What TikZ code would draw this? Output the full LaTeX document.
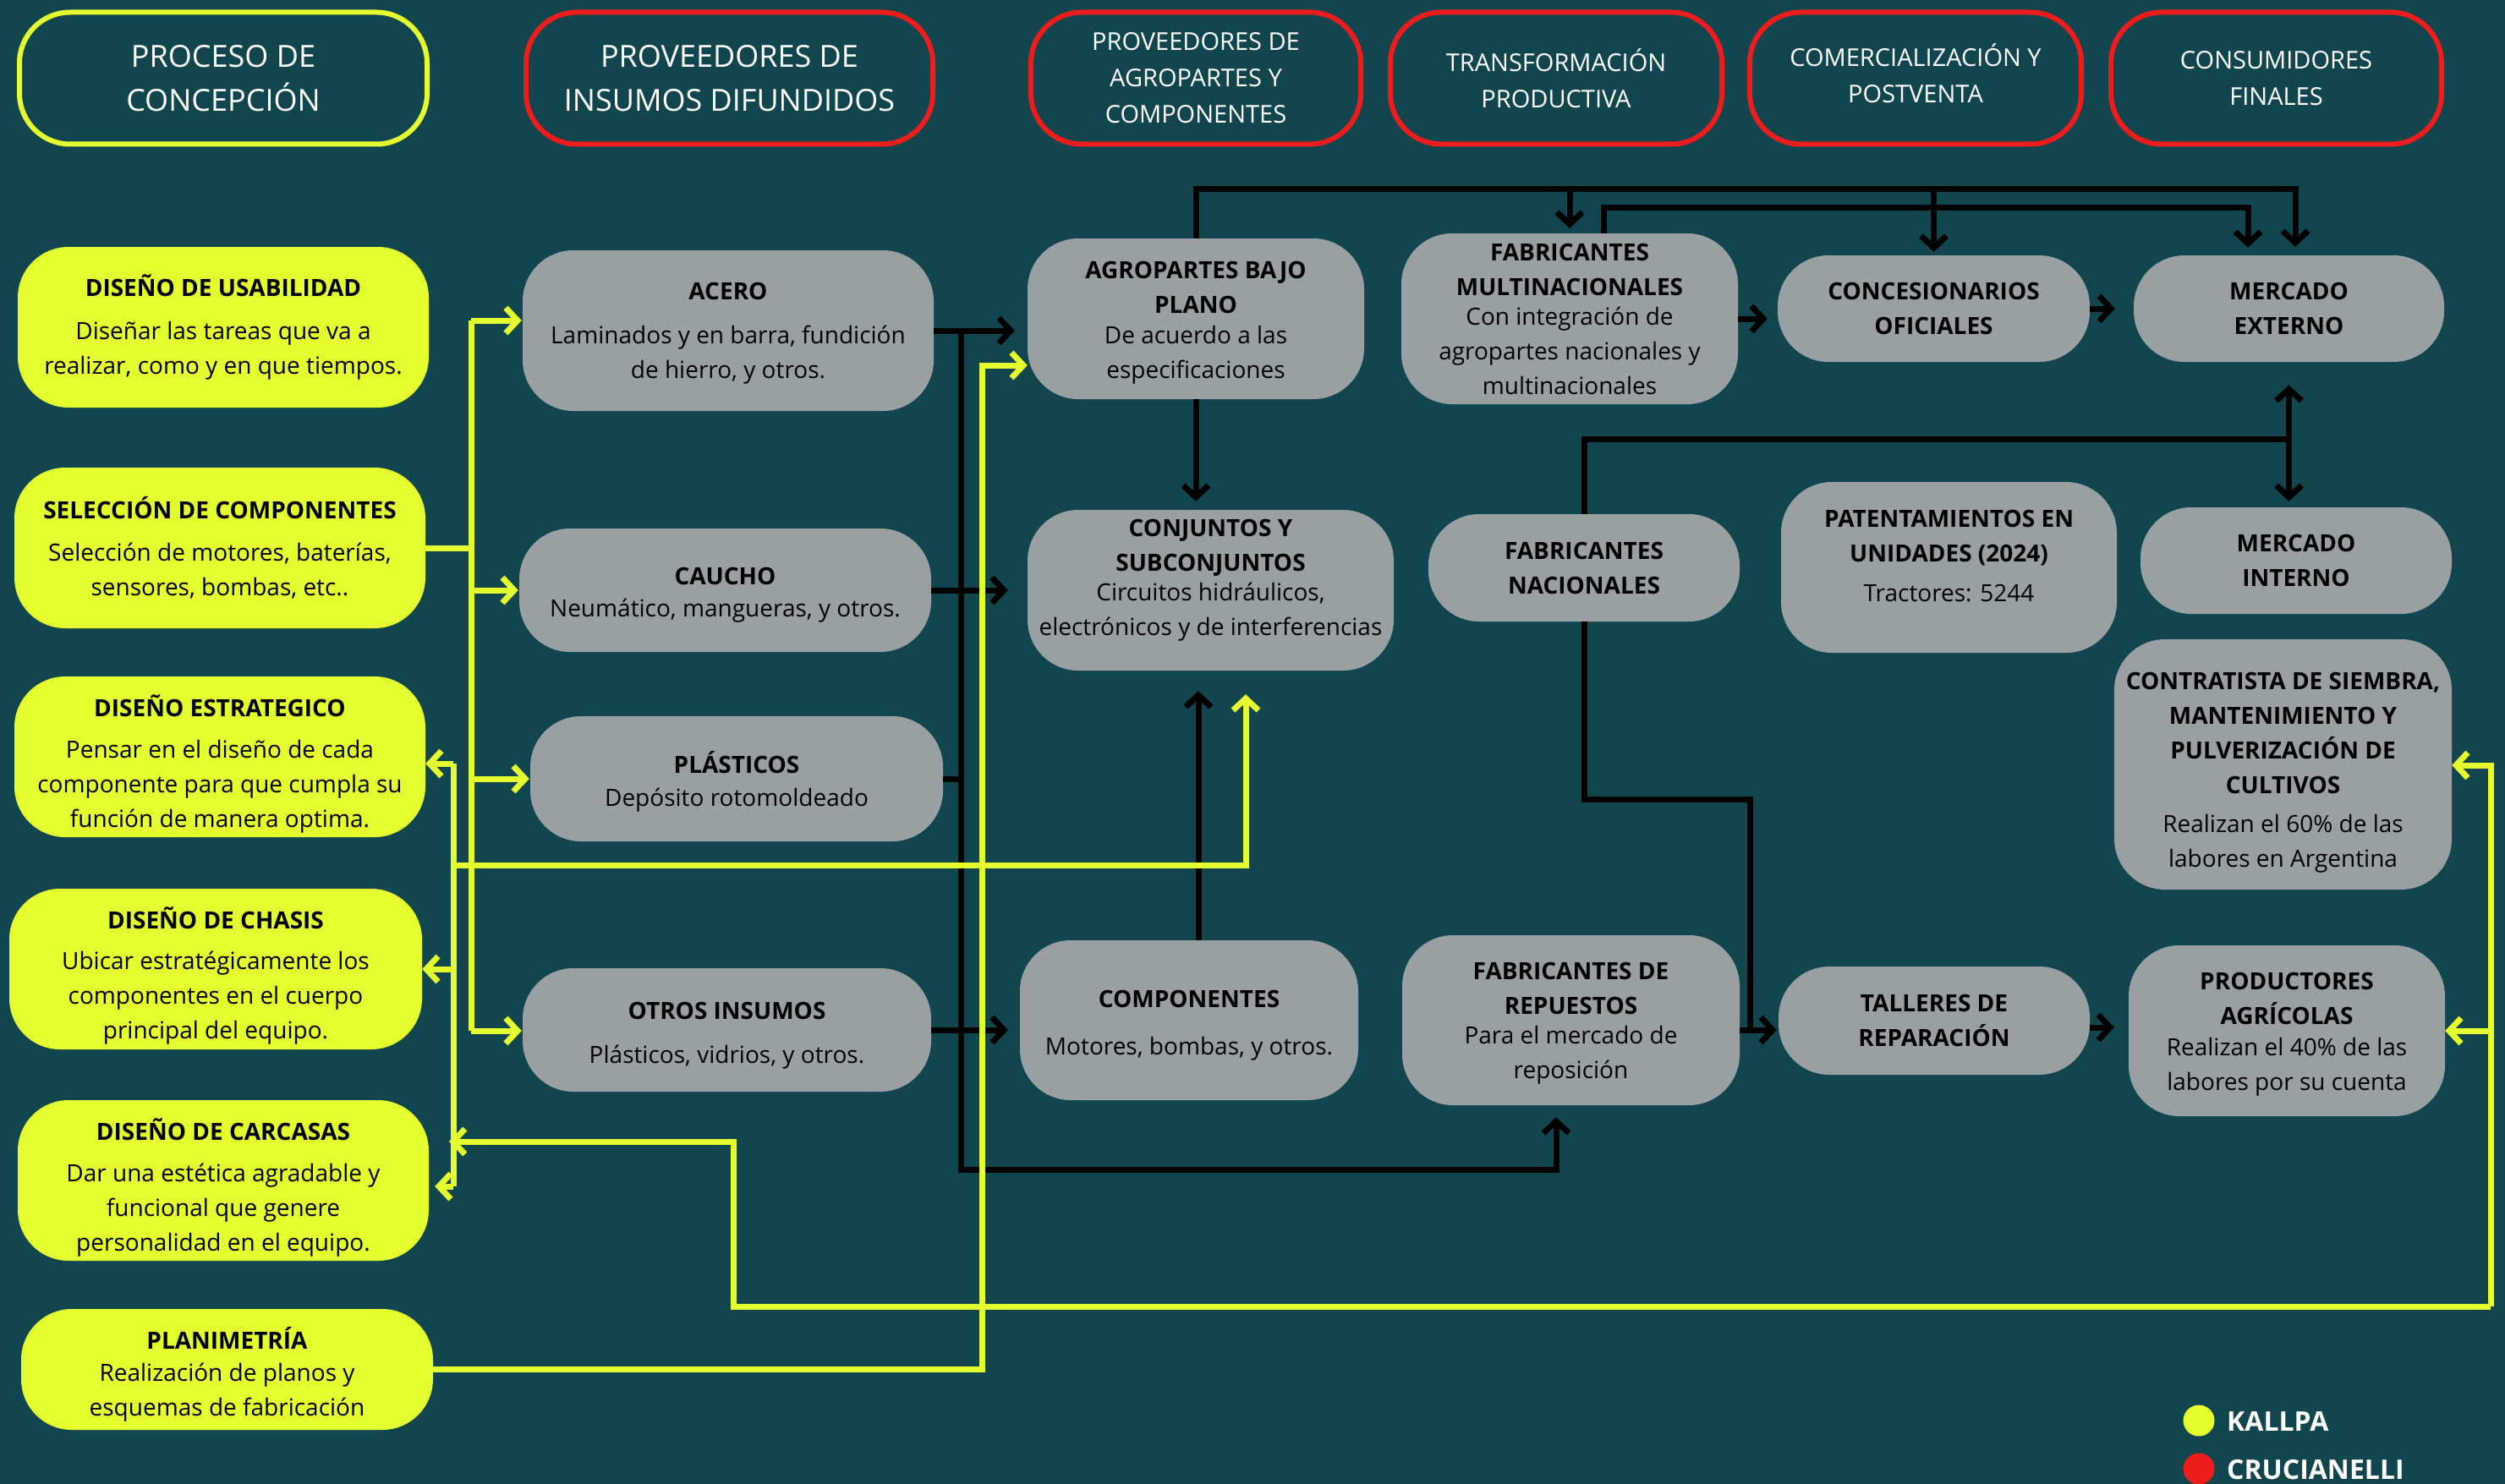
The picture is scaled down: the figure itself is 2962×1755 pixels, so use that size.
\documentclass[tikz,border=0pt]{standalone}
\usepackage{fontspec}
\setmainfont{Open Sans}
\usetikzlibrary{arrows.meta,calc}
\definecolor{bgc}{HTML}{12464F}
\definecolor{ylw}{HTML}{E4FD2F}
\definecolor{rdc}{HTML}{EE1C1C}
\definecolor{gry}{HTML}{9A9FA1}
\begin{document}
\begin{tikzpicture}[x=1pt,y=-1pt,
 hdr/.style={draw, line width=6pt, rounded corners=60pt, text=white, align=center, inner sep=0pt},
 hbig/.style={hdr, font=\fontsize{36}{52}\selectfont},
 hsm/.style={hdr, font=\fontsize{29}{43}\selectfont},
 txt/.style={align=center, inner sep=0pt, text=black, font=\fontsize{28}{41}\selectfont},
 ybox/.style={fill=ylw, rounded corners=60pt, inner sep=0pt},
 gbox/.style={fill=gry, rounded corners=60pt, inner sep=0pt},
 blk/.style={draw=black, line width=7pt},
 yl/.style={draw=ylw, line width=7pt},
 arr/.style={-{Straight Barb[length=14pt,width=30pt]}},
 darr/.style={{Straight Barb[length=14pt,width=30pt]}-{Straight Barb[length=14pt,width=30pt]}},
 legt/.style={anchor=west, text=white, font=\bfseries\fontsize{32}{38}\selectfont, inner sep=0pt},
 dot/.style={circle, minimum size=37pt, inner sep=0pt}
]
\useasboundingbox (0,0) rectangle (2962,1755);
\fill[bgc] (0,0) rectangle (2962,1755);

% headers
\node[hbig, draw=ylw, minimum width=482pt, minimum height=156pt] (h1) at (264,92.5) {PROCESO DE\\CONCEPCIÓN};
\node[hbig, draw=rdc, minimum width=481pt, minimum height=156pt] (h2) at (862.5,92.5) {PROVEEDORES DE\\INSUMOS DIFUNDIDOS};
\node[hsm, draw=rdc, minimum width=390pt, minimum height=156pt] (h3) at (1414,92.5) {PROVEEDORES DE\\AGROPARTES Y\\COMPONENTES};
\node[hsm, draw=rdc, minimum width=392pt, minimum height=156pt] (h4) at (1840,92.5) {TRANSFORMACIÓN\\PRODUCTIVA};
\node[hsm, draw=rdc, minimum width=392pt, minimum height=156pt] (h5) at (2265,92.5) {COMERCIALIZACIÓN Y\\POSTVENTA\\[-31pt]\mbox{}};
\node[hsm, draw=rdc, minimum width=391pt, minimum height=156pt] (h6) at (2691.5,92.5) {CONSUMIDORES\\FINALES};

% left yellow boxes
\node[ybox, minimum width=486pt, minimum height=190pt, label={[txt]center:{\textbf{DISEÑO DE USABILIDAD}\\[10pt] Diseñar las tareas que va a\\ realizar, como y en que tiempos.}}] (usab) at (264,387) {};
\node[ybox, minimum width=486pt, minimum height=190pt, label={[txt]center:{\textbf{SELECCIÓN DE COMPONENTES}\\[9pt] Selección de motores, baterías,\\ sensores, bombas, etc..}}] (selcomp) at (260,648) {};
\node[ybox, minimum width=486pt, minimum height=190pt, label={[txt,yshift=-8pt]center:{\textbf{DISEÑO ESTRATEGICO}\\[8pt] Pensar en el diseño de cada\\ componente para que cumpla su\\ función de manera optima.}}] (estrat) at (260,895) {};
\node[ybox, minimum width=488pt, minimum height=190pt, label={[txt,yshift=-8pt]center:{\textbf{DISEÑO DE CHASIS}\\[7pt] Ubicar estratégicamente los\\ componentes en el cuerpo\\ principal del equipo.}}] (chasis) at (255,1146) {};
\node[ybox, minimum width=486pt, minimum height=190pt, label={[txt,yshift=-8pt]center:{\textbf{DISEÑO DE CARCASAS}\\[8pt] Dar una estética agradable y\\ funcional que genere\\ personalidad en el equipo.}}] (carcasas) at (264,1396) {};
\node[ybox, minimum width=487pt, minimum height=143pt, label={[txt,yshift=-6pt]center:{\textbf{PLANIMETRÍA}\\[-3pt] Realización de planos y\\ esquemas de fabricación}}] (planim) at (268.5,1619.5) {};

% gray boxes
\node[gbox, minimum width=486pt, minimum height=190pt, label={[txt,yshift=-3pt]center:{\textbf{ACERO}\\[11pt] Laminados y en barra, fundición\\ de hierro, y otros.}}] (acero) at (861,391) {};
\node[gbox, minimum width=487pt, minimum height=146pt, label={[txt,yshift=-6pt]center:{\textbf{CAUCHO}\\[-3pt] Neumático, mangueras, y otros.}}] (caucho) at (857.5,698) {};
\node[gbox, minimum width=488pt, minimum height=148pt, label={[txt,yshift=-3pt]center:{\textbf{PLÁSTICOS}\\[-2pt] Depósito rotomoldeado}}] (plast) at (871,921) {};
\node[gbox, minimum width=483pt, minimum height=146pt, label={[txt,yshift=-7pt]center:{\textbf{OTROS INSUMOS}\\[11pt] Plásticos, vidrios, y otros.}}] (otros) at (859.5,1218) {};
\node[gbox, minimum width=398pt, minimum height=190pt, label={[txt,yshift=-5pt]center:{\textbf{AGROPARTES BAJO}\\ \textbf{PLANO}\\[-5pt] De acuerdo a las\\ especificaciones}}] (agro) at (1414,377) {};
\node[gbox, minimum width=398pt, minimum height=202pt, label={[txt]center:{\textbf{FABRICANTES}\\ \textbf{MULTINACIONALES}\\[-6pt] Con integración de\\ agropartes nacionales y\\ multinacionales}}] (multinac) at (1856,377) {};
\node[gbox, minimum width=433pt, minimum height=190pt, label={[txt,yshift=12pt]center:{\textbf{CONJUNTOS Y}\\ \textbf{SUBCONJUNTOS}\\[-6pt] Circuitos hidráulicos,\\ electrónicos y de interferencias}}] (conj) at (1431.5,698) {};
\node[gbox, minimum width=368pt, minimum height=127pt, label={[txt]center:{\textbf{FABRICANTES}\\ \textbf{NACIONALES}}}] (fnac) at (1873,671.5) {};
\node[gbox, minimum width=400pt, minimum height=189pt, label={[txt,yshift=-6pt]center:{\textbf{COMPONENTES}\\[15pt] Motores, bombas, y otros.}}] (comp) at (1406,1206.5) {};
\node[gbox, minimum width=399pt, minimum height=201pt, label={[txt,yshift=-4pt]center:{\textbf{FABRICANTES DE}\\ \textbf{REPUESTOS}\\[-6pt] Para el mercado de\\ reposición}}] (repuestos) at (1857.5,1206.5) {};
\node[gbox, minimum width=369pt, minimum height=126pt, label={[txt]center:{\textbf{CONCESIONARIOS}\\ \textbf{OFICIALES}}}] (conc) at (2286.5,365) {};
\node[gbox, minimum width=367pt, minimum height=126pt, label={[txt]center:{\textbf{MERCADO}\\ \textbf{EXTERNO}}}] (mext) at (2706.5,365) {};
\node[gbox, minimum width=397pt, minimum height=202pt, label={[txt,yshift=13pt]center:{\textbf{PATENTAMIENTOS EN}\\ \textbf{UNIDADES (2024)}\\[6pt] Tractores: 5244}}] (patent) at (2304.5,671) {};
\node[gbox, minimum width=368pt, minimum height=126pt, label={[txt]center:{\textbf{MERCADO}\\ \textbf{INTERNO}}}] (mint) at (2715,663) {};
\node[gbox, minimum width=399pt, minimum height=296pt, label={[txt,yshift=-10pt]center:{\textbf{CONTRATISTA DE SIEMBRA,}\\ \textbf{MANTENIMIENTO Y}\\ \textbf{PULVERIZACIÓN DE}\\ \textbf{CULTIVOS}\\[5pt] Realizan el 60\% de las\\ labores en Argentina}}] (contr) at (2699.5,904) {};
\node[gbox, minimum width=368pt, minimum height=128pt, label={[txt]center:{\textbf{TALLERES DE}\\ \textbf{REPARACIÓN}}}] (talleres) at (2287,1207) {};
\node[gbox, minimum width=374pt, minimum height=202pt, label={[txt,yshift=-4pt]center:{\textbf{PRODUCTORES}\\ \textbf{AGRÍCOLAS}\\[-4pt] Realizan el 40\% de las\\ labores por su cuenta}}] (prod) at (2704,1219) {};

% legend
\node[dot, fill=ylw] (lk) at (2600,1680) {};
\node[legt] (lkt) at (2633,1681) {KALLPA};
\node[dot, fill=rdc] (lc) at (2600,1737) {};
\node[legt] (lct) at (2633,1738) {CRUCIANELLI};

% black connectors
\coordinate (tA) at (1136,391);
\coordinate (tB) at (1136,1383);
\coordinate (tC) at (1840,1383);
\coordinate (cx) at (1417,0);
\draw[blk,arr,shorten >=15pt] (acero.east) -- (acero.east -| agro.west);
\draw[blk,arr,shorten >=23pt] (caucho.east) -- (caucho.east -| conj.west);
\draw[blk] (plast.east) -- (plast.east -| tA);
\draw[blk,arr,shorten >=14pt] (otros.east) -- (otros.east -| comp.west);
\draw[blk,arr,shorten >=14pt] (tA) -- (tB) -- (tC) -- (tC |- repuestos.south);
\draw[blk,arr,shorten >=10pt] (agro.south) -- (agro.south |- conj.north);
\draw[blk,arr,shorten >=24pt] (comp.north -| cx) -- (cx |- conj.south);
\coordinate (T1) at (2714,223);
\coordinate (T2) at (2658,245);
\draw[blk,arr,shorten >=10pt] (agro.north) |- (T1) -- (T1 |- mext.north);
\draw[blk,arr,shorten >=6pt] (multinac.north |- T1) -- (multinac.north);
\draw[blk,arr,shorten >=4pt] (conc.north |- T1) -- (conc.north);
\draw[blk,arr,shorten >=9pt] ([xshift=40pt]multinac.north) |- (T2) -- (T2 |- mext.north);
\draw[blk,arr,shorten >=12pt] (multinac.east) -- (multinac.east -| conc.west);
\draw[blk,arr,shorten >=22pt] (conc.east) -- (conc.east -| mext.west);
\coordinate (J) at (2706,519);
\draw[blk] (fnac.north) |- (J);
\draw[blk,darr,shorten <=27pt,shorten >=7pt] (mext.south) -- (mext.south |- mint.north);
\coordinate (K1) at (2069,945);
\coordinate (K2) at (2069,1218);
\draw[blk] (fnac.south) |- (K1) -- (K2);
\draw[blk,arr,shorten >=2pt] (repuestos.east |- K2) -- (K2 -| talleres.west);
\draw[blk,arr,shorten >=17pt] ([yshift=-8pt]talleres.east) -- ([yshift=-8pt]talleres.east -| prod.west);

% yellow connectors
\coordinate (Ya) at (557,379);
\coordinate (Yb) at (557,1219);
\draw[yl] (selcomp.east) -- (selcomp.east -| Ya);
\draw[yl] (Ya) -- (Yb);
\draw[yl,arr,shorten >=1pt] (Ya) -- (Ya -| acero.west);
\draw[yl,arr,shorten >=1pt] (caucho.west -| Ya) -- (caucho.west);
\draw[yl,arr,shorten >=1pt] (plast.west -| Ya) -- (plast.west);
\draw[yl,arr,shorten >=1pt] (Yb) -- (Yb -| otros.west);
\coordinate (Yc) at (536,903);
\coordinate (Yd) at (536,1403);
\draw[yl] (Yc) -- (Yd);
\draw[yl,arr] (Yc) -- (Yc -| estrat.east);
\draw[yl,arr] (chasis.east -| Yc) -- (chasis.east);
\draw[yl,arr,shorten >=7pt] (Yd) -- (Yd -| carcasas.east);
\coordinate (Ye) at (1473,1023);
\draw[yl,arr,shorten >=28pt] (Yc |- Ye) -- (Ye) -- (Ye |- conj.south);
\coordinate (R1) at (2945,905);
\coordinate (R2) at (2945,1545);
\coordinate (L2) at (867,1545);
\coordinate (L1) at (867,1350);
\draw[yl,arr] (R2) -- (R1) -- (R1 -| contr.east);
\draw[yl,arr,shorten >=-5pt] (R2) -- (L2) -- (L1) -- (L1 -| Yc);
\draw[yl,arr] (prod.east -| R1) -- (prod.east);
\coordinate (P1) at (1161,432);
\draw[yl,arr] (planim.east) -| (P1) -- (P1 -| agro.west);
\end{tikzpicture}
\end{document}
